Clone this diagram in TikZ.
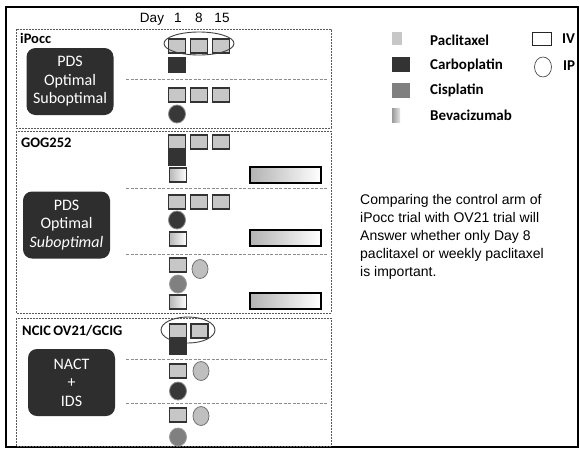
\documentclass[tikz,border=0pt]{standalone}
\usepackage{fontspec}
\setmainfont{Liberation Sans}
\newfontfamily\calf{Carlito}
\usetikzlibrary{shapes.geometric}

\tikzset{
  panel/.style={draw=black!65, dash pattern=on 2pt off 1pt, line width=0.9pt},
  sepline/.style={draw=black!45, dash pattern=on 3pt off 1.5pt, line width=0.6pt},
  dose/.style={rectangle, minimum width=17pt, minimum height=14pt, inner sep=0pt,
    line width=1.2pt, draw=black!80},
  pac/.style={dose, fill=black!22},
  carbo/.style={dose, fill=black!80},
  ivbev/.style={dose, left color=black!28, right color=white},
  bar/.style={dose, minimum width=71pt, minimum height=16pt, line width=1.6pt, draw=black,
    left color=black!30, middle color=black!3, right color=white},
  ipdose/.style={ellipse, minimum width=17pt, minimum height=18pt, inner sep=0pt, line width=0.8pt},
  ipcarbo/.style={ipdose, fill=black!78, draw=black!45},
  ippac/.style={ipdose, fill=black!25, draw=black!55, minimum width=16pt, minimum height=19pt},
  ipcis/.style={ipdose, fill=black!50, draw=black!40},
  arm/.style={rectangle, rounded corners=9pt, fill=black!82, text=white,
    font=\calf\fontsize{16}{18.5}\selectfont, align=center,
    minimum width=87pt, minimum height=67pt, inner sep=0pt},
  trialname/.style={font=\calf\bfseries\fontsize{14.5}{16}\selectfont, anchor=base west, inner sep=0pt},
  legendtext/.style={font=\calf\bfseries\fontsize{15}{17}\selectfont, anchor=west, inner sep=0pt},
  dayhead/.style={font=\fontsize{13.5}{15}\selectfont, anchor=base, inner sep=0pt},
  course/.style={ellipse, draw=black!75, line width=0.9pt, inner sep=0pt},
}

\begin{document}
\begin{tikzpicture}[x=1pt, y=-1pt]
  % canvas and outer frame
  \fill[white] (0,0) rectangle (580,450);
  \useasboundingbox (0,0) rectangle (580,450);
  \draw[line width=1.4pt] (6,7) rectangle (578,447);

  % day header
  \node[dayhead] (day) at (152,22) {Day};
  \node[dayhead] (d1)  at (178,22) {1};
  \node[dayhead] (d8)  at (199,22) {8};
  \node[dayhead] (d15) at (222,22) {15};

  % ---------------- iPocc ----------------
  \draw[panel] (16,29) rectangle (331,128);
  \node[trialname] (t1) at (20,43) {iPocc};
  \node[arm] (a1) at (70,81.5) {PDS\\Optimal\\Suboptimal};
  \node[pac] (i1a) at (177,46) {};
  \node[pac] (i1b) at (199,46) {};
  \node[pac] (i1c) at (221,46) {};
  \node[course, minimum width=70pt, minimum height=23pt] (e1) at (199,43.5) {};
  \node[carbo] (i1d) at (177,65) {};
  \draw[sepline] (126,79) -- (328,79);
  \node[pac] (i2a) at (177,95) {};
  \node[pac] (i2b) at (199,95) {};
  \node[pac] (i2c) at (221,95) {};
  \node[ipcarbo] (i2d) at (177,114) {};

  % ---------------- GOG252 ----------------
  \draw[panel] (16,131) rectangle (331,313);
  \node[trialname] (t2) at (21,147) {GOG252};
  \node[arm] (a2) at (66.5,225) {PDS\\Optimal\\\itshape Suboptimal};
  \node[pac] (g1a) at (177,142) {};
  \node[pac] (g1b) at (199,142) {};
  \node[pac] (g1c) at (221,142) {};
  \node[carbo] (g1d) at (177,158) {};
  \node[ivbev] (g1e) at (178,175) {};
  \node[bar] (g1f) at (285.5,175) {};
  \draw[sepline] (126,188) -- (328,188);
  \node[pac] (g2a) at (177,202) {};
  \node[pac] (g2b) at (199,202) {};
  \node[pac] (g2c) at (221,202) {};
  \node[ipcarbo] (g2d) at (177,220) {};
  \node[ivbev] (g2e) at (178,239) {};
  \node[bar] (g2f) at (285.5,238) {};
  \draw[sepline] (126,254) -- (328,254);
  \node[pac] (g3a) at (178,265) {};
  \node[ippac] (g3b) at (200,269) {};
  \node[ipcis] (g3c) at (178,284) {};
  \node[ivbev] (g3d) at (178,302) {};
  \node[bar] (g3e) at (285.5,301) {};

  % ---------------- NCIC OV21/GCIG ----------------
  \draw[panel] (16,318) rectangle (331,446);
  \node[trialname] (t3) at (22,335) {NCIC\,OV21/GCIG};
  \node[arm] (a3) at (71.5,382.5) {NACT\\+\\IDS};
  \node[pac] (n1a) at (178,331) {};
  \node[pac] (n1b) at (199.5,331) {};
  \node[course, minimum width=54pt, minimum height=26pt] (e3) at (188,330) {};
  \node[carbo] (n1c) at (178,347) {};
  \draw[sepline] (126,359) -- (328,359);
  \node[pac] (n2a) at (178,371) {};
  \node[ippac] (n2b) at (201,371) {};
  \node[ipcarbo] (n2c) at (178,391) {};
  \draw[sepline] (126,403) -- (328,403);
  \node[pac] (n3a) at (178,415) {};
  \node[ippac] (n3b) at (201,416) {};
  \node[ipcis] (n3c) at (178,437) {};

  % ---------------- legend ----------------
  \node[rectangle, fill=black!22, minimum width=10pt, minimum height=13pt, inner sep=0pt] (lpac) at (397,38) {};
  \node[legendtext] (lpact) at (430,40) {Paclitaxel};
  \node[rectangle, fill=black!80, minimum width=18pt, minimum height=15pt, inner sep=0pt] (lcar) at (401,64) {};
  \node[legendtext] (lcart) at (430,65) {Carboplatin};
  \node[rectangle, fill=black!50, minimum width=18pt, minimum height=15pt, inner sep=0pt] (lcis) at (401,90) {};
  \node[legendtext] (lcist) at (430,90) {Cisplatin};
  \node[rectangle, left color=black!40, right color=black!10, minimum width=8pt, minimum height=14pt, inner sep=0pt] (lbev) at (396,115) {};
  \node[legendtext] (lbevt) at (430,115) {Bevacizumab};
  \node[rectangle, draw=black!85, line width=0.9pt, minimum width=19pt, minimum height=13pt, inner sep=0pt] (liv) at (542,39) {};
  \node[legendtext] (livt) at (562,39) {IV};
  \node[ellipse, draw=black!70, line width=0.7pt, minimum width=17pt, minimum height=20pt, inner sep=0pt] (lip) at (543,67) {};
  \node[legendtext] (lipt) at (563,66) {IP};

  % ---------------- note ----------------
  \node[anchor=north west, inner sep=0pt, align=left,
        font=\fontsize{14}{18}\selectfont] (note) at (360,194)
    {Comparing the control arm of\\iPocc trial with OV21 trial will\\Answer whether only Day 8\\paclitaxel or weekly paclitaxel\\is important.};
\end{tikzpicture}
\end{document}
